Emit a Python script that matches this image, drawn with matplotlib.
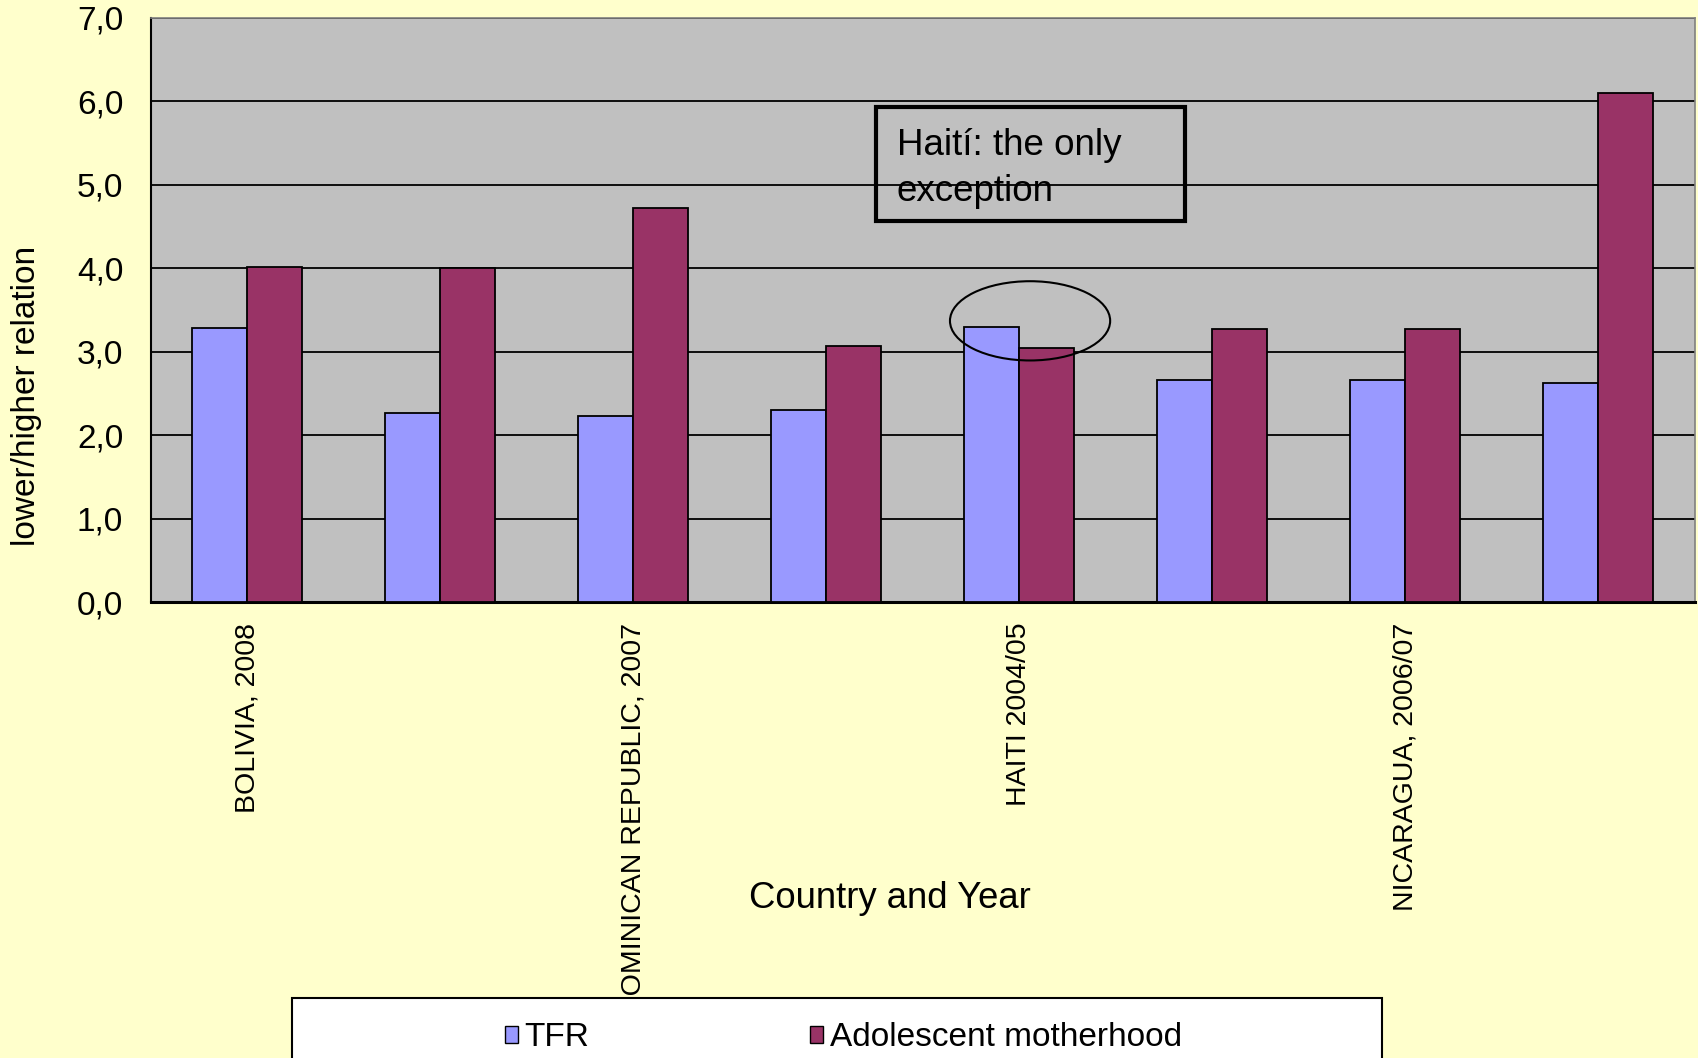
import numpy as np
from matplotlib import pyplot as plt
from matplotlib.patches import Ellipse, Rectangle, Patch

plt.rcParams["font.family"] = ["Liberation Sans", "DejaVu Sans"]

# data
countries = ["BOLIVIA, 2008", "", "DOMINICAN REPUBLIC, 2007", "", "HAITI 2004/05", "", "NICARAGUA, 2006/07", ""]
tfr = [3.28, 2.27, 2.23, 2.30, 3.30, 2.66, 2.66, 2.62]
adolescent = [4.02, 4.00, 4.72, 3.07, 3.04, 3.27, 3.27, 6.10]
series_names = ["TFR", "Adolescent motherhood"]
yticks = [0, 1, 2, 3, 4, 5, 6, 7]
ytick_labels = ["0,0", "1,0", "2,0", "3,0", "4,0", "5,0", "6,0", "7,0"]

TFR_COLOR = "#9999FF"
ADOL_COLOR = "#993366"


def main():
    fig = plt.figure(figsize=(16.98, 10.58), dpi=100, facecolor="#FFFFCC")
    ax = fig.add_axes([0.0889, 0.431, 0.9093, 0.552])
    ax.set_facecolor("#C0C0C0")

    x = np.arange(len(countries))
    width = 0.285
    ax.bar(x - width / 2, tfr, width, color=TFR_COLOR, edgecolor="black", linewidth=1.3, zorder=3)
    ax.bar(x + width / 2, adolescent, width, color=ADOL_COLOR, edgecolor="black", linewidth=1.3, zorder=3)

    ax.set_xlim(-0.5, len(countries) - 0.5)
    ax.set_ylim(0, 7)
    ax.set_yticks(yticks)
    ax.set_yticklabels(ytick_labels, fontsize=24)
    ax.set_xticks(x)
    ax.set_xticklabels(countries, rotation=90, fontsize=20.5, va="top")
    ax.tick_params(axis="y", length=0, pad=20)
    ax.tick_params(axis="x", length=0, pad=15)
    ax.yaxis.grid(True, color="black", linewidth=1.3, zorder=1)
    ax.set_axisbelow(True)

    ax.spines["left"].set_linewidth(1.5)
    ax.spines["bottom"].set_linewidth(2.2)
    for side in ["top", "right"]:
        ax.spines[side].set_color("#808080")
        ax.spines[side].set_linewidth(1.2)

    # annotation box and circle around Haiti
    ax.add_patch(Rectangle((3.257, 4.57), 1.60, 1.36, fill=False, edgecolor="black", linewidth=3, zorder=4))
    ax.text(3.365, 5.20, "Haití: the only\nexception", fontsize=26.5, va="center", ha="left", linespacing=1.4, zorder=5)
    ax.add_patch(Ellipse((4.055, 3.37), 0.83, 0.95, fill=False, edgecolor="black", linewidth=1.5, zorder=5))

    fig.text(27 / 1698, 1 - 396 / 1058, "lower/higher relation", rotation=90, fontsize=24, ha="center", va="center")
    fig.text(890 / 1698, 1 - 898 / 1058, "Country and Year", fontsize=26.3, ha="center", va="center")

    # legend box, partly cut off by the bottom of the figure
    fig.patches.append(Rectangle((292 / 1698, -0.05), 1090 / 1698, 0.05 + (1058 - 998) / 1058,
                                 transform=fig.transFigure, facecolor="white", edgecolor="black",
                                 linewidth=1.5, zorder=3))
    handles = [Patch(facecolor=TFR_COLOR, edgecolor="black"), Patch(facecolor=ADOL_COLOR, edgecolor="black")]
    fig.legend(handles, series_names, loc="center left", bbox_to_anchor=(488 / 1698, 1 - 1038 / 1058),
               ncol=2, frameon=False, fontsize=24, handlelength=0.4, handleheight=0.4,
               handletextpad=0.2, columnspacing=6.6, borderpad=0)

    fig.savefig("out.png", dpi=100, facecolor=fig.get_facecolor())


if __name__ == "__main__":
    main()
